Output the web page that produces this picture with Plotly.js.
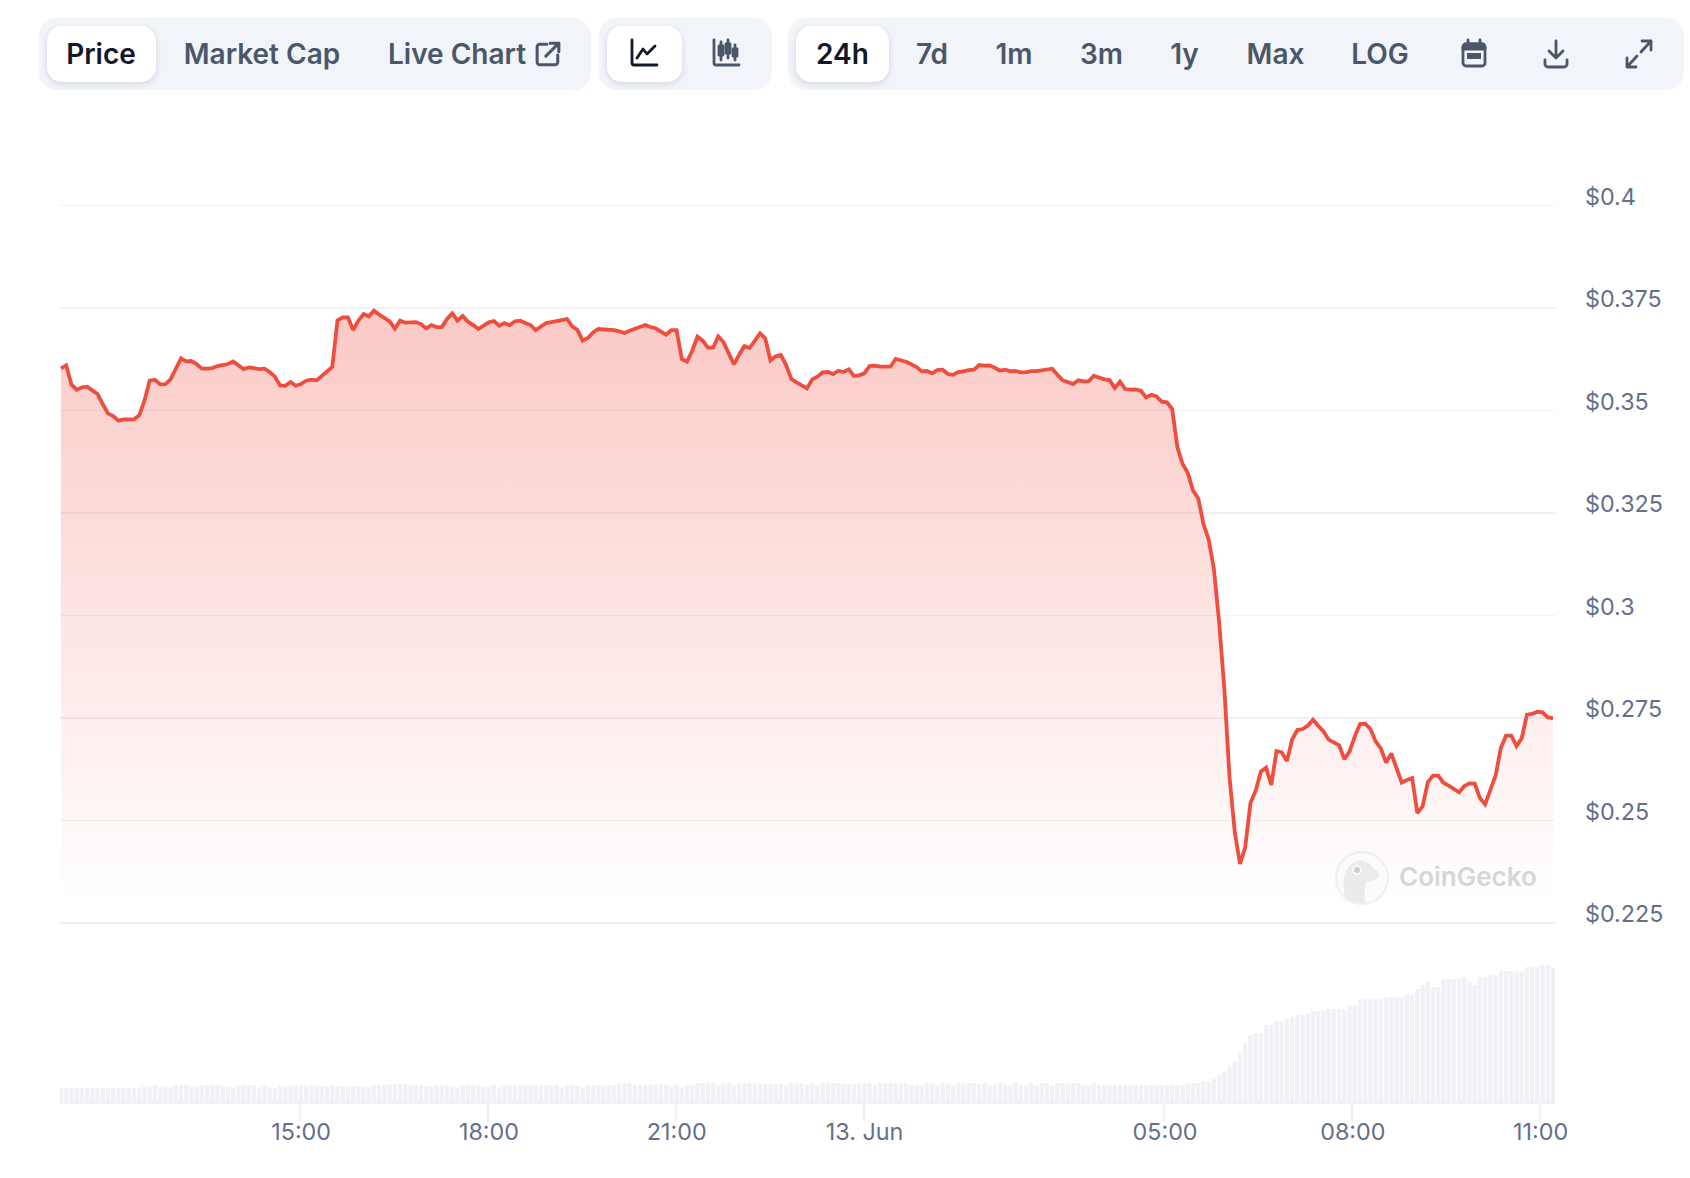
<!DOCTYPE html>
<html>
<head>
<meta charset="utf-8">
<script src="https://cdn.plot.ly/plotly-3.0.1.min.js"></script>
<style>
html,body{margin:0;padding:0;background:#fff;width:1690px;height:1178px;overflow:hidden;font-family:Inter,"Noto Sans",sans-serif}
#chart{position:absolute;left:0;top:0;width:1690px;height:1178px}
.grp{position:absolute;top:18px;height:72px;background:#f1f4f9;border-radius:18px;z-index:2}
.pill{position:absolute;top:26px;height:56px;background:#fff;border-radius:15px;box-shadow:0 2px 6px rgba(30,41,59,.14);z-index:3}
.t{position:absolute;top:54px;transform:translate(-50%,-50%);font-size:28px;font-weight:600;color:#4b5669;white-space:nowrap;z-index:4;line-height:1}
.t.on{color:#111827}
.ic{position:absolute;z-index:4;overflow:visible;fill:none;stroke:#4b5669;stroke-width:2.8;stroke-linecap:round;stroke-linejoin:round}
.wm{position:absolute;z-index:5;left:1399px;top:877px;transform:translateY(-50%);font-size:26px;font-weight:600;color:#d6d6d6;line-height:1}
</style>
</head>
<body>
<div id="chart"></div>

<div class="grp" style="left:787.500px;width:896.500px"></div>
<div class="grp" style="left:39px;width:552px"></div>
<div class="grp" style="left:599px;width:173px"></div>
<div class="pill" style="left:47px;width:109px"></div>
<div class="pill" style="left:607px;width:75px"></div>
<div class="pill" style="left:796px;width:93px"></div>

<div class="t on" style="left:101px">Price</div>
<div class="t" style="left:262px">Market Cap</div>
<div class="t" style="left:457px">Live Chart</div>
<div class="t on" style="left:842.500px">24h</div>
<div class="t" style="left:932px">7d</div>
<div class="t" style="left:1014px">1m</div>
<div class="t" style="left:1101.500px">3m</div>
<div class="t" style="left:1184.500px">1y</div>
<div class="t" style="left:1275.500px">Max</div>
<div class="t" style="left:1380px">LOG</div>

<svg class="ic" style="left:535px;top:41px" width="26" height="26" viewBox="0 0 24 24"><path d="M11 3H4.500A2.500 2.500 0 0 0 2 5.500V19.500A2.500 2.500 0 0 0 4.500 22H18.500A2.500 2.500 0 0 0 21 19.500V13"/><path d="M14 2H22V10M22 2L10 14"/></svg>
<svg class="ic" style="left:630px;top:39px;stroke:#111827" width="28" height="28" viewBox="0 0 28 28"><path d="M2 1V24A2 2 0 0 0 4 26H27"/><path d="M7 19L13 10L17 15L25 7"/></svg>
<svg class="ic" style="left:712px;top:39px" width="28" height="28" viewBox="0 0 28 28"><path d="M2 1V24A2 2 0 0 0 4 26H27"/><path d="M9 3V21M16 1V19M23 6V21"/><rect x="7" y="7" width="4" height="9" fill="#4b5669"/><rect x="14" y="5" width="4" height="9" fill="#4b5669"/><rect x="21" y="10" width="4" height="7" fill="#4b5669"/></svg>
<svg class="ic" style="left:1461px;top:39px" width="26" height="28" viewBox="0 0 26 28"><rect x="2" y="5" width="22" height="22" rx="3"/><path d="M2 8A3 3 0 0 1 5 5H21A3 3 0 0 1 24 8V10H2Z" fill="#4b5669"/><path d="M7 1V5M19 1V5"/><rect x="6" y="14" width="14" height="6" fill="#4b5669" stroke="none"/></svg>
<svg class="ic" style="left:1543px;top:39px" width="26" height="30" viewBox="0 0 26 30"><path d="M13 2V19M6 12L13 19L20 12"/><path d="M2 21V25A3 3 0 0 0 5 28H21A3 3 0 0 0 24 25V21"/></svg>
<svg class="ic" style="left:1625px;top:39px" width="28" height="30" viewBox="0 0 28 30"><path d="M17 2H26V11M26 2L16 13"/><path d="M11 28H2V19M2 28L12 17"/></svg>

<svg style="position:absolute;left:1333px;top:849px;z-index:5;overflow:visible" width="58" height="58" viewBox="0 0 58 58">
  <circle cx="29" cy="29" r="26" fill="#fcfafa" stroke="#eeeeee" stroke-width="2"/>
  <path d="M12 48C8 30 12 16 24 12C32 10 38 15 41 20C45 21 47 24 46 27C43 32 36 31 33 34C31 39 32 46 32 54C24 54 16 52 12 48Z" fill="#ebebeb"/>
  <circle cx="24" cy="21" r="5" fill="#f8f8f8"/><circle cx="24" cy="21" r="3" fill="#cfcfcf"/>
</svg>
<div class="wm">CoinGecko</div>

<script>
// Price in USD, one reading every 5 minutes
const priceA = [.36025,.36098,.35627,.35505,.35562,.35578,.35489,.35399,.35155,.34928,.34863,.34749,.34781,.34781,.34781,.34879,.35237,.35724,.35749,.35635,.35643,.35757,.36009,.36269,.36196,.36204,.36131,.36017,.36017,.36033,.36082,.36106,.36131,.36196,.36090,.36009,.36050,.36025,.36009,.36017,.35936,.35822,.35610,.35602,.35692,.35602,.35643,.35724,.35749,.35733,.35838,.35960,.36058,.37196,.37269,.37269,.36960,.37188,.37350,.37294,.37432,.37334,.37245,.37172,.36993,.37188,.37139,.37139,.37155];
const priceB = [.37106,.37001,.37082,.37033,.37033,.37229,.37367,.37188,.37302,.37163,.37082,.36985,.37066,.37147,.37180,.37066,.37131,.37074,.37172,.37188,.37131,.37082,.36960,.37041,.37131,.37155,.37188,.37204,.37229,.37050,.36960,.36700,.36765,.36903,.36985,.36976,.36985,.36960,.36928,.36887,.36944,.36993,.37017,.37082,.37033,.37001,.36920,.36846,.36960,.36960,.36253,.36188,.36456,.36798,.36700,.36529,.36529,.36806,.36659,.36375,.36123,.36359,.36570,.36521,.36700,.36879,.36757,.36220,.36318,.36350];
const priceC = [.36107,.35765,.35684,.35611,.35537,.35757,.35822,.35928,.35936,.35887,.35968,.35936,.36001,.35838,.35855,.35903,.36082,.36090,.36066,.36066,.36066,.36253,.36220,.36188,.36123,.36058,.35952,.35960,.35903,.35985,.35993,.35887,.35871,.35936,.35952,.35985,.35993,.36107,.36090,.36099,.36042,.35968,.35993,.35952,.35960,.35928,.35936,.35960,.35960,.35985,.36001,.36017,.35871,.35733,.35692,.35643,.35733,.35708,.35708,.35846,.35798,.35757,.35741,.35546,.35700,.35521,.35505,.35513,.35480,.35318,.35383,.35342,.35212,.35196,.35033];
const priceD = [.34098,.33693,.33473,.33042,.32854,.32229,.31846,.31132,.29829,.28205,.26049,.24709,.23936,.24343,.25416,.25725,.26188,.26286,.25863,.26692,.26660,.26449,.26977,.27205,.27229,.27310,.27457,.27310,.27172,.26969,.26904,.26831,.26497,.26676,.27050,.27351,.27359,.27229,.26928,.26757,.26408,.26636,.26278,.25920,.25985,.26034,.25180,.25343,.25928,.26091,.26091,.25920,.25847,.25766,.25684,.25839,.25904,.25896,.25538,.25392,.25749,.26099,.26766,.27066,.27066,.26814,.27001,.27579,.27595,.27652,.27636,.27514,.27497];
const price = [...priceA, ...priceB, ...priceC, ...priceD];

// Volume bars, relative height (the picture has no volume scale)
const volumeA = [14,14,14,14,14,14,14,14,14,14,14,14,14,14,14,14,16,16,17,15,16,15,17,17,17,16,16,17,17,17,17,16,15,14,16,17,17,17,15,17,15,14,16,16,16,17];
const volumeB = [16,16,17,16,16,16,17,16,16,16,16,16,15,15,17,17,17,18,18,19,18,17,17,17,16,16,17,16,17,16,15,17,17,17,16,15,16,17,15,17,17,17,16,17,17,17,16,17];
const volumeC = [17,17,15,17,17,17,14,17,17,17,16,17,17,19,19,19,17,17,17,18,17,18,17,16,18,15,17,17,19,19,19,19,17,19,19,17,19,19,19,19,19,18,19,18,19,17,19,19,19,18,19,17,19,19,19,19,18,18,18,19,19,19,17,19,19,19,19,19,19,18,17,17,19,19,17,19,19,17,19,19,19,19,18,19,17,17];
const volumeD = [19,17,17,19,17,17,19,17,19,19,17,19,19,19,19,19,17,17,19];
const volumeE = [17,17,17,17,17,17,17,17,17,17,17,17,17,17,17,17,17,19,19,19,21,21,23,27,31,35,41,49,59,67,69,69,77,77,81,81,83,85,87,87,89,91,91,91,93,93,93,93,97,97,103,103,103,103,103,105,105,105,105,107,107,113,117,121,115,115,123,123,123,123,125,121,117,125,125,127,127,131,131,131,131,131,135,135,135,137,137,135];
const volume = [...volumeA, ...volumeB, ...volumeC, ...volumeD, ...volumeE];

const startHour = 11.18;               // first reading, hours after midnight on 12 Jun
const stepHours = 5 / 60;
const hours = price.map((_, i) => startHour + i * stepHours);

const priceTicks = [0.225, 0.25, 0.275, 0.3, 0.325, 0.35, 0.375, 0.4];
const priceTickLabels = ['$0.225', '$0.25', '$0.275', '$0.3', '$0.325', '$0.35', '$0.375', '$0.4'];
const timeTicks = [15, 18, 21, 24, 28.8, 31.8, 34.8];
const timeTickLabels = ['15:00', '18:00', '21:00', '13. Jun', '05:00', '08:00', '11:00'];

const W = 1690, H = 1178;
const pxPerUsd = 1 / 0.0002439, y04 = 205.4;
const pyOf = p => y04 + (0.4 - p) * pxPerUsd;
const priceRange = [0.22, 0.405];
const baseY = 1102.2, volTop = 962.2, volMax = 140;
const fr = py => 1 - py / H;
const pxPerHour = 1492 / (286 * stepHours);
const grey = '#f0f1f6', labelColor = '#64708a';

const traces = [
  {type: 'bar', x: hours, y: volume, xaxis: 'x', yaxis: 'y2',
   marker: {color: grey, line: {width: 0}}, hoverinfo: 'skip'},
  {type: 'scatter', mode: 'lines', x: hours, y: price, xaxis: 'x', yaxis: 'y',
   line: {color: '#ef4e3f', width: 3.8, shape: 'linear'},
   fill: 'tozeroy',
   fillgradient: {type: 'vertical', start: 0.2292, stop: 0.375,
     colorscale: [[0, 'rgba(239,68,56,0)'], [1, 'rgba(239,68,56,0.29)']]},
   hoverinfo: 'skip'}
];

const layout = {
  width: W, height: H, margin: {l: 0, r: 0, t: 0, b: 0},
  paper_bgcolor: 'rgba(0,0,0,0)', plot_bgcolor: 'rgba(0,0,0,0)',
  showlegend: false, bargap: 0.18,
  font: {family: 'Inter, "Noto Sans", sans-serif', size: 23.3, color: labelColor},
  xaxis: {
    domain: [60 / W, 1555 / W], anchor: 'y2',
    range: [startHour - 1 / pxPerHour, startHour + 1494 / pxPerHour],
    tickmode: 'array', tickvals: timeTicks, ticktext: timeTickLabels,
    ticks: 'outside', ticklen: 18, tickwidth: 2, tickcolor: grey,
    showgrid: false, zeroline: false, showline: true, linecolor: grey, linewidth: 2,
    tickfont: {size: 23.3, color: labelColor}, ticklabelstandoff: -10, ticklabelshift: 1
  },
  yaxis: {
    domain: [fr(pyOf(priceRange[0])), fr(pyOf(priceRange[1]))], anchor: 'x', side: 'right',
    range: priceRange,
    tickmode: 'array', tickvals: priceTicks, ticktext: priceTickLabels,
    showgrid: true, gridcolor: grey, gridwidth: 1.6, zeroline: false, showline: false,
    ticks: '', tickfont: {size: 23.3, color: labelColor},
    ticklabelstandoff: 29, ticklabelshift: -9
  },
  yaxis2: {
    domain: [fr(baseY), fr(volTop)], anchor: 'x', range: [0, volMax],
    visible: false
  }
};

Plotly.newPlot('chart', traces, layout, {displayModeBar: false, staticPlot: true});
</script>
</body>
</html>
